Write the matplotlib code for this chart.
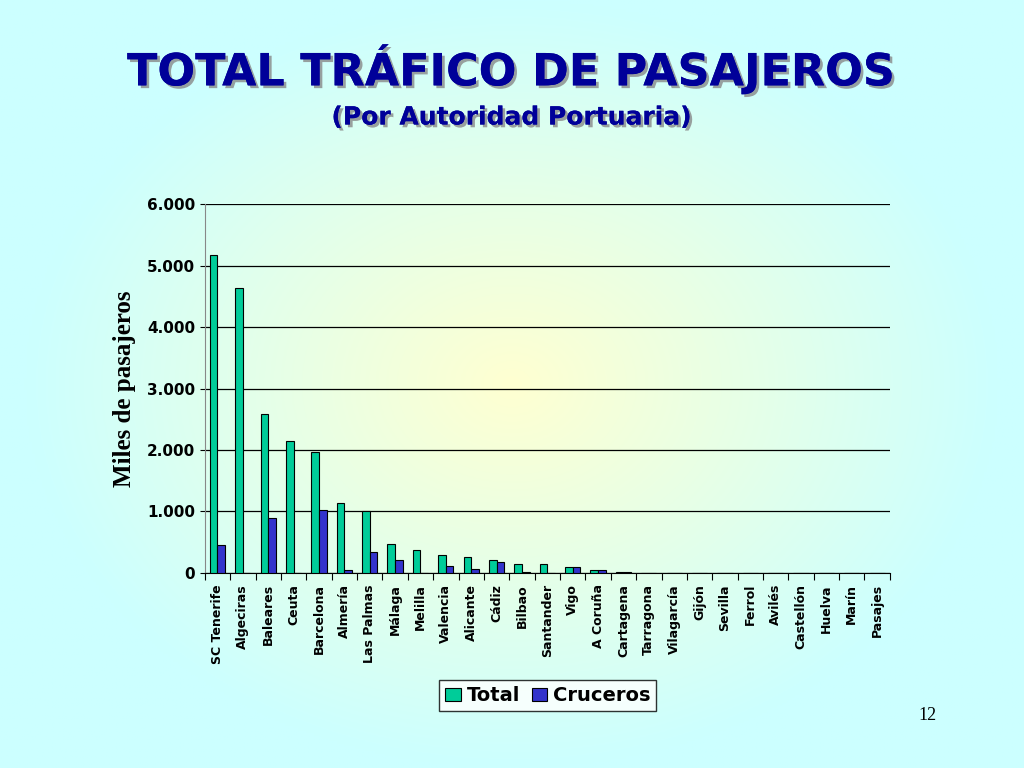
import matplotlib
matplotlib.use("Agg")
import matplotlib.pyplot as plt
import numpy as np
import matplotlib.patheffects as pe

ports = ["SC Tenerife","Algeciras","Baleares","Ceuta","Barcelona","Almería","Las Palmas","Málaga",
         "Melilla","Valencia","Alicante","Cádiz","Bilbao","Santander","Vigo","A Coruña","Cartagena",
         "Tarragona","Vilagarcía","Gijón","Sevilla","Ferrol","Avilés","Castellón","Huelva","Marín","Pasajes"]
total = [5170,4630,2580,2140,1970,1140,1010,470,375,295,260,210,150,150,95,45,20,0,0,0,0,0,0,0,0,0,0]
cruceros = [450,0,900,0,1030,50,340,210,0,115,60,180,10,0,95,40,10,0,0,0,0,0,0,0,0,0,0]
yticks = [0,1000,2000,3000,4000,5000,6000]
ytick_labels = ["0","1.000","2.000","3.000","4.000","5.000","6.000"]

fig = plt.figure(figsize=(10.24,7.68), dpi=100)
bg = fig.add_axes([0,0,1,1], zorder=-10)
yy, xx = np.mgrid[-1:1:300j, -1:1:400j]
r = np.clip(np.sqrt((xx/0.95)**2 + (yy/1.0)**2), 0, 1)
c_in = np.array([1.0,1.0,0.82]); c_out = np.array([0.80,1.0,1.0])
img = c_in[None,None,:]*(1-r[...,None]) + c_out[None,None,:]*r[...,None]
bg.imshow(img, aspect='auto', extent=[0,1,0,1])
bg.axis('off')

ax = fig.add_axes([0.2, 0.254, 0.669, 0.48])
ax.patch.set_alpha(0)
x = np.arange(len(ports))
w = 0.3
ax.bar(x-w/2, total, w, color="#00CC99", edgecolor="black", linewidth=0.8, label="Total", zorder=3)
ax.bar(x+w/2, cruceros, w, color="#3333CC", edgecolor="black", linewidth=0.8, label="Cruceros", zorder=3)
ax.set_xlim(-0.5, len(ports)-0.5)
ax.set_ylim(0, 6000)
ax.set_yticks(yticks)
ax.set_yticklabels(ytick_labels, fontsize=11, fontweight='bold')
ax.yaxis.grid(True, color='black', linewidth=0.9, zorder=0)
ax.set_xticks(np.arange(len(ports)+1)-0.5, minor=False)
ax.set_xticklabels([])
ax.set_xticks(x, minor=True)
ax.set_xticklabels(ports, minor=True, rotation=90, fontsize=9, fontweight='bold')
ax.tick_params(axis='x', which='minor', length=0, pad=8)
ax.tick_params(axis='x', which='major', length=5)
for s in ['top','right']:
    ax.spines[s].set_visible(False)
ax.spines['left'].set_color('#888888')
ax.set_ylabel("Miles de pasajeros", fontsize=18, fontfamily='Liberation Serif', fontweight='bold', labelpad=8)

leg = fig.legend(loc='center', bbox_to_anchor=(0.535, 0.094), ncol=2, fontsize=14,
                 frameon=True, edgecolor='black', fancybox=False, handlelength=0.8,
                 handletextpad=0.3, columnspacing=0.6, borderpad=0.3)
leg.get_frame().set_facecolor('white')
for t in leg.get_texts():
    t.set_fontweight('bold')

sh = [pe.withSimplePatchShadow(offset=(2,-2), shadow_rgbFace='#888888', alpha=0.8), pe.Normal()]
fig.text(0.5, 0.91, "TOTAL TRÁFICO DE PASAJEROS", ha='center', va='center', fontsize=32,
         fontweight='bold', color='#000099', path_effects=sh)
fig.text(0.5, 0.847, "(Por Autoridad Portuaria)", ha='center', va='center', fontsize=18,
         fontweight='bold', color='#000099', path_effects=sh)
fig.text(0.915, 0.062, "12", fontsize=13, fontfamily='Liberation Serif', ha='right')
fig.savefig("out.png", dpi=100)
